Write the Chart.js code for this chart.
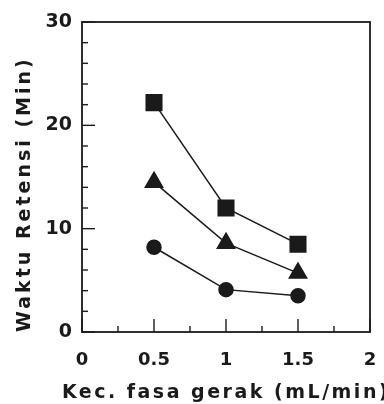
<!DOCTYPE html>
<html>
<head>
<meta charset="utf-8">
<script src="https://cdn.jsdelivr.net/npm/chart.js@4"></script>
<style>
  html, body { margin: 0; padding: 0; background: #fff; }
  #wrap { width: 384px; height: 404px; }
</style>
</head>
<body>
<div id="wrap"><canvas id="chart"></canvas></div>
<script>
// flow rate of mobile phase (mL/min)
const flowRates = [0.5, 1, 1.5];

// retention time (min) for the three compounds
const squareSeries = [22.2, 12.0, 8.5];
const triangleSeries = [14.5, 8.6, 5.7];
const circleSeries = [8.2, 4.1, 3.5];

const xTickLabels = ["0", "0.5", "1", "1.5", "2"];
const yTickLabels = ["0", "10", "20", "30"];

const ink = "#1a1a1a";
const fontFamily = "'DejaVu Sans', sans-serif";

function toPoints(values) {
    return flowRates.map((x, i) => ({ x: x, y: values[i] }));
}

function makeSet(label, values, style, radius) {
    return {
        label: label,
        data: toPoints(values),
        showLine: true,
        borderColor: ink,
        borderWidth: 1.5,
        backgroundColor: ink,
        pointBackgroundColor: ink,
        pointBorderColor: ink,
        pointStyle: style,
        pointRadius: radius,
        tension: 0
    };
}

// the scanned axis titles use loosely spaced lettering, and the
// x title runs wider than the plot, so drop chart.js's maxWidth squeeze
const titleSpacing = { x: "2.5px", y: "3px" };
const spacedTitles = {
    id: "spacedTitles",
    afterLayout(chart) {
        Object.keys(titleSpacing).forEach(id => {
            const scale = chart.scales[id];
            if (scale._spaced) return;
            const orig = scale.drawTitle;
            scale.drawTitle = function() {
                const c = this.ctx;
                c.save();
                c.letterSpacing = titleSpacing[id];
                const ft = CanvasRenderingContext2D.prototype.fillText;
                c.fillText = function(t, x, y) { return ft.call(this, t, x, y); };
                orig.apply(this, arguments);
                delete c.fillText;
                c.restore();
            };
            scale._spaced = true;
        });
    }
};

// inward tick marks and the closed frame around the plot
const frameTicks = {
    id: "frameTicks",
    afterDraw(chart) {
        const c = chart.ctx;
        const a = chart.chartArea;
        const xs = chart.scales.x;
        const ys = chart.scales.y;
        c.save();
        c.strokeStyle = ink;
        c.lineWidth = 1.8;
        c.strokeRect(a.left, a.top, a.right - a.left, a.bottom - a.top);
        c.lineWidth = 1.4;
        xs.ticks.forEach(t => {
            const px = xs.getPixelForValue(t.value);
            const major = Math.abs(t.value * 2 - Math.round(t.value * 2)) < 1e-6;
            const len = major ? 13 : 6;
            c.beginPath();
            c.moveTo(px, a.bottom);
            c.lineTo(px, a.bottom - len);
            c.stroke();
        });
        ys.ticks.forEach(t => {
            const py = ys.getPixelForValue(t.value);
            const major = t.value % 10 === 0;
            const len = major ? 13 : 6;
            c.beginPath();
            c.moveTo(a.left, py);
            c.lineTo(a.left + len, py);
            c.stroke();
        });
        c.restore();
    }
};

new Chart(document.getElementById("chart"), {
    type: "scatter",
    data: {
        datasets: [
            makeSet("square", squareSeries, "rect", 11),
            makeSet("triangle", triangleSeries, "triangle", 10),
            makeSet("circle", circleSeries, "circle", 7)
        ]
    },
    options: {
        responsive: true,
        maintainAspectRatio: false,
        animation: false,
        layout: {
            padding: { top: 22, right: 0, bottom: 0, left: 14 }
        },
        plugins: {
            legend: { display: false },
            tooltip: { enabled: false }
        },
        scales: {
            x: {
                type: "linear",
                min: 0,
                max: 2,
                grid: { display: false, drawTicks: false },
                border: { display: false },
                afterFit(scale) {
                    scale.height = 72;
                    scale.paddingRight = 14;
                },
                ticks: {
                    stepSize: 0.25,
                    autoSkip: false,
                    maxRotation: 0,
                    padding: 18,
                    color: ink,
                    font: { family: fontFamily, size: 18, weight: "bold" },
                    callback: function(v) {
                        const i = Math.round(v * 2);
                        return Math.abs(v * 2 - i) < 1e-6 ? xTickLabels[i] : "";
                    }
                },
                title: {
                    display: true,
                    text: "Kec. fasa gerak (mL/min)",
                    color: ink,
                    font: { family: fontFamily, size: 19, weight: "bold" },
                    padding: { top: 0, bottom: 0 }
                }
            },
            y: {
                min: 0,
                max: 30,
                grid: { display: false, drawTicks: false },
                border: { display: false },
                afterFit(scale) {
                    scale.width = 68;
                    scale.paddingTop = 0;
                },
                ticks: {
                    stepSize: 2,
                    autoSkip: false,
                    padding: 10,
                    color: ink,
                    font: { family: fontFamily, size: 19, weight: "bold" },
                    callback: function(v) {
                        return v % 10 === 0 ? yTickLabels[v / 10] : "";
                    }
                },
                title: {
                    display: true,
                    align: "start",
                    text: "Waktu Retensi (Min)",
                    color: ink,
                    font: { family: fontFamily, size: 19, weight: "bold" },
                    padding: { top: 0, bottom: 0 }
                }
            }
        }
    },
    plugins: [spacedTitles, frameTicks]
});
</script>
</body>
</html>
